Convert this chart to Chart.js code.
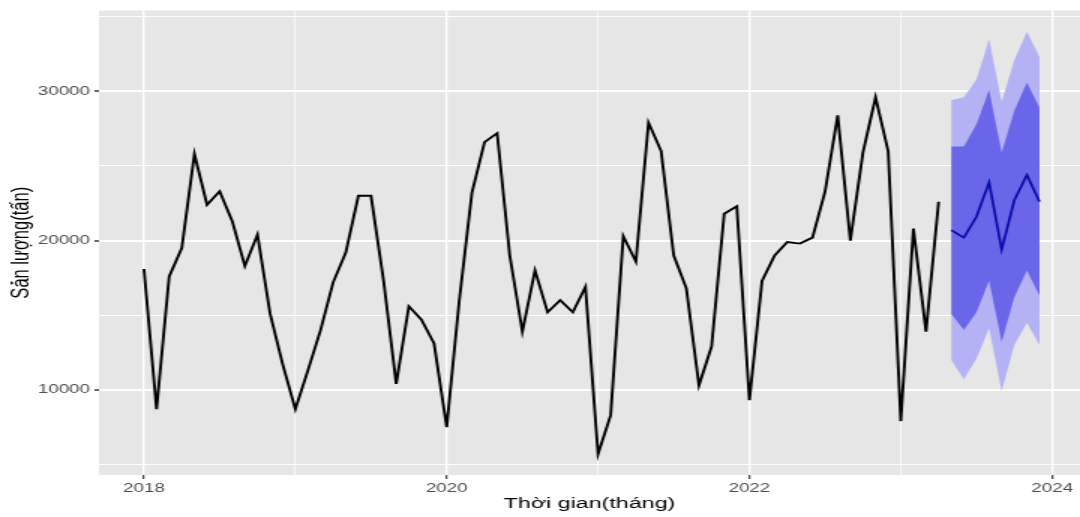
<!DOCTYPE html>
<html>
<head>
<meta charset="utf-8">
<script src="https://cdn.jsdelivr.net/npm/chart.js@4/dist/chart.umd.min.js"></script>
<style>
  html, body { margin: 0; padding: 0; background: #ffffff; overflow: hidden; }
  #wrap { width: 720px; height: 517px; transform: scaleX(1.5); transform-origin: 0 0; }
  canvas { display: block; }
</style>
</head>
<body>
<div id="wrap"><canvas id="c" width="720" height="517"></canvas></div>
<script>
// Monthly output, Jan 2018 – Apr 2023
const startYear = 2018;
const observed = [
  18100, 8700, 17600, 19500, 25800, 22400, 23300, 21300, 18300, 20400, 15100, 11700,
  8700, 11300, 14000, 17200, 19200, 23000, 23000, 17300, 10400, 15600, 14700, 13100,
  7500, 16000, 23200, 26600, 27200, 19000, 13900, 18000, 15200, 16000, 15200, 16900,
  5700, 8300, 20300, 18600, 27900, 26000, 19000, 16800, 10300, 12900, 21800, 22300,
  9300, 17300, 19000, 19900, 19800, 20200, 23300, 28400, 20000, 25900, 29600, 26000,
  7900, 20800, 13900, 22600
];

// Forecast, May 2023 – Dec 2023
const forecastStart = 64; // months after Jan 2018
const fcMean = [20700, 20200, 21600, 23900, 19400, 22700, 24400, 22600];
const fcLo80 = [15100, 14000, 15200, 17300, 13200, 16200, 18000, 16300];
const fcHi80 = [26300, 26300, 27800, 30100, 25900, 28700, 30600, 28900];
const fcLo95 = [12000, 10700, 12100, 14100, 9900, 13000, 14500, 13000];
const fcHi95 = [29400, 29600, 30800, 33500, 29300, 32100, 34000, 32300];

// Axis ticks
const xTicks = [2018, 2019, 2020, 2021, 2022, 2023, 2024];
const xLabelled = [2018, 2020, 2022, 2024];
const yTicks = [5000, 10000, 15000, 20000, 25000, 30000, 35000];
const yLabelled = [10000, 20000, 30000];

const toPoints = (vals, offset) => vals.map((v, i) => ({ x: startYear + (offset + i) / 12, y: v }));

const panelBg = {
  id: 'panelBg',
  beforeDraw(chart) {
    const { ctx, chartArea: a } = chart;
    ctx.save();
    ctx.fillStyle = '#e6e6e6';
    ctx.fillRect(a.left, a.top, a.right - a.left, a.bottom - a.top);
    ctx.restore();
  }
};

const FONT = "'Liberation Sans', Arial, sans-serif";
const band = (data, color, fill, order) => ({
  data, borderWidth: 0, pointRadius: 0, backgroundColor: color, borderColor: color,
  fill, order
});

new Chart(document.getElementById('c'), {
  type: 'line',
  data: {
    datasets: [
      band(toPoints(fcHi95, forecastStart), '#b4b2f5', '+1', 5),
      band(toPoints(fcLo95, forecastStart), '#b4b2f5', false, 5),
      band(toPoints(fcHi80, forecastStart), '#6a66ea', '+1', 3),
      band(toPoints(fcLo80, forecastStart), '#6a66ea', false, 3),
      { data: toPoints(fcMean, forecastStart), borderColor: '#0a0aa8', borderWidth: 1.7,
        pointRadius: 0, fill: false, order: 1 },
      { data: toPoints(observed, 0), borderColor: '#000000', borderWidth: 1.9,
        pointRadius: 0, fill: false, order: 1 }
    ]
  },
  options: {
    responsive: false,
    animation: false,
    devicePixelRatio: 1,
    layout: { padding: { top: 7.5, right: 0, left: 0, bottom: 0 } },
    plugins: { legend: { display: false }, tooltip: { enabled: false } },
    scales: {
      x: {
        type: 'linear',
        min: 2017.703,
        max: 2024.184,
        afterBuildTicks: s => { s.ticks = xTicks.map(v => ({ value: v })); },
        afterFit: s => { s.height = 42; },
        border: { display: false },
        grid: {
          color: '#ffffff',
          lineWidth: c => xLabelled.includes(c.tick && c.tick.value) ? 1.35 : 0.7,
          tickLength: 4,
          tickColor: c => xLabelled.includes(c.tick && c.tick.value) ? '#333333' : 'rgba(0,0,0,0)',
          tickWidth: 1.1
        },
        ticks: {
          autoSkip: false,
          maxRotation: 0,
          padding: 2,
          color: '#4d4d4d',
          font: { family: FONT, size: 12.5 },
          callback: v => xLabelled.includes(v) ? String(v) : ''
        },
        title: {
          display: true,
          text: 'Thời gian(tháng)',
          color: '#000000',
          font: { family: FONT, size: 15.5 },
          padding: { top: 2, bottom: 4 }
        }
      },
      y: {
        type: 'linear',
        min: 4290,
        max: 35420,
        afterBuildTicks: s => { s.ticks = yTicks.map(v => ({ value: v })); },
        afterFit: s => { s.width = 66; },
        border: { display: false },
        grid: {
          color: '#ffffff',
          lineWidth: c => yLabelled.includes(c.tick && c.tick.value) ? 2 : 1.1,
          tickLength: 3,
          tickColor: c => yLabelled.includes(c.tick && c.tick.value) ? '#333333' : 'rgba(0,0,0,0)',
          tickWidth: 1.5
        },
        ticks: {
          autoSkip: false,
          padding: 3,
          color: '#4d4d4d',
          font: { family: FONT, size: 12.5 },
          callback: v => yLabelled.includes(v) ? String(v) : ''
        },
        title: {
          display: true,
          text: 'Sản lượng(tấn)',
          color: '#000000',
          font: { family: FONT, size: 16.5 },
          padding: { top: 4.5, bottom: 2 }
        }
      }
    }
  },
  plugins: [panelBg]
});
</script>
</body>
</html>
